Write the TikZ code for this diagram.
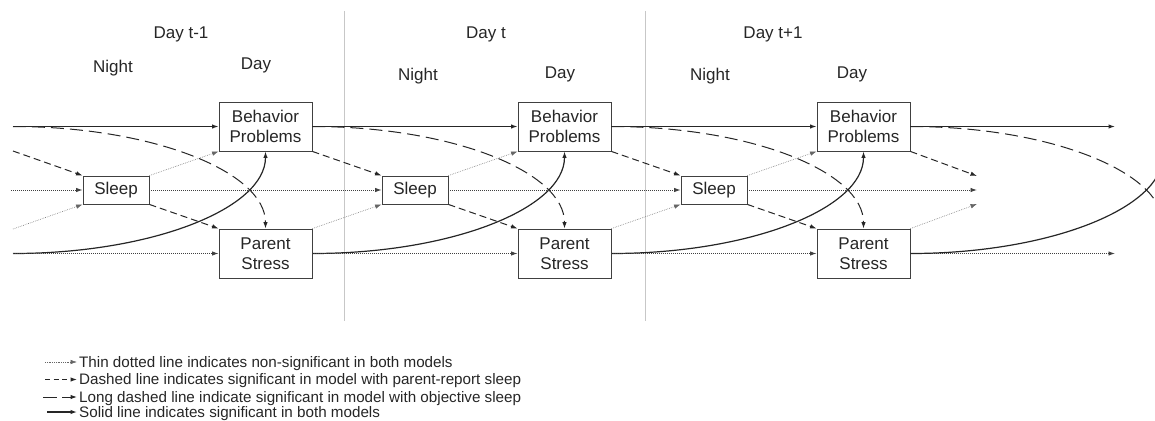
\documentclass[tikz,border=0pt]{standalone}
\usepackage{fontspec}
\setmainfont{Liberation Sans}
\usetikzlibrary{arrows.meta}
\begin{document}
\begin{tikzpicture}[x=1pt,y=-1pt,
  box/.style={draw=black!75, line width=0.9pt, fill=white, minimum width=93pt, minimum height=49pt, inner sep=0pt, align=center, font=\fontsize{17}{19.5}\selectfont, text=black!85},
  sbox/.style={box, minimum width=66pt, minimum height=28pt},
  tip/.style={-{Latex[length=6.5pt,width=4.5pt]}},
  solidln/.style={tip, line width=1.2pt, draw=black!85},
  longdash/.style={tip, line width=1pt, draw=black!85, dash pattern=on 13pt off 6pt},
  meddash/.style={tip, line width=1pt, draw=black!85, dash pattern=on 7pt off 4pt},
  dotln/.style={tip, line width=0.9pt, draw=black!75, dash pattern=on 0.9pt off 1.1pt},
  thindot/.style={tip, line width=0.6pt, draw=black!60, dash pattern=on 0.6pt off 1.2pt},
  lbl/.style={font=\fontsize{17}{19.5}\selectfont, text=black!85, anchor=base, inner sep=0pt},
  leg/.style={font=\fontsize{15.2}{18}\selectfont, text=black!85, anchor=base west, inner sep=0pt},
  sep/.style={draw=black!22, line width=0.8pt}
]
\useasboundingbox (0,0) rectangle (1155,420);

% separators
\coordinate (sepa1) at (344,11);   \coordinate (sepa2) at (344,321);
\coordinate (sepb1) at (645.5,11); \coordinate (sepb2) at (645.5,321);
\draw[sep] (sepa1) -- (sepa2);
\draw[sep] (sepb1) -- (sepb2);

% headers
\node[lbl] (h1) at (181,39) {Day t-1};
\node[lbl] (n1) at (113,72) {Night};
\node[lbl] (d1) at (256,69) {Day};
\node[lbl] (h2) at (486,38) {Day t};
\node[lbl] (n2) at (418,80) {Night};
\node[lbl] (d2) at (560,78) {Day};
\node[lbl] (h3) at (773,39) {Day t+1};
\node[lbl] (n3) at (710,80) {Night};
\node[lbl] (d3) at (852,78) {Day};

% boxes
\foreach \i in {1,2,3}{
  \node[box]  (bp\i) at ({265.5+299*(\i-1)},126.5) {Behavior\\Problems};
  \node[box]  (ps\i) at ({265.5+299*(\i-1)},253.5) {Parent\\Stress};
  \node[sbox] (s\i)  at ({116+299*(\i-1)},190) {Sleep};
}

% virtual ends (left)
\coordinate (bp0e)  at (13,126.5);
\coordinate (bp0se) at (13,151);
\coordinate (ps0e)  at (13,253.5);
\coordinate (ps0ne) at (13,229);
\coordinate (s0e)   at (11,190);
% virtual ends (right)
\coordinate (rt1)  at (1115,126.5);
\coordinate (rt2)  at (1115,253.5);
\coordinate (s4nw) at (977,176);
\coordinate (s4w)  at (977,190);
\coordinate (s4sw) at (977,204);
\coordinate (bp4s) at (1162.5,151);
\coordinate (ps4n) at (1162.5,229);

% column 1 incoming
\draw[solidln] (bp0e) -- (bp1.west);
\draw[longdash] (bp0e) .. controls +(139,0) and +(0,-57) .. (ps1.north);
\draw[solidln] (ps0e) .. controls +(139,0) and +(0,57) .. (bp1.south);
\draw[meddash] (bp0se) -- (s1.north west);
\draw[dotln] (s0e) -- (s1.west);
\draw[thindot] (ps0ne) -- (s1.south west);
\draw[dotln] (ps0e) -- (ps1.west);

% columns 2 and 3 incoming
\foreach \i/\p in {2/1,3/2}{
  \draw[solidln] (bp\p.east) -- (bp\i.west);
  \draw[longdash] (bp\p.east) .. controls +(139,0) and +(0,-57) .. (ps\i.north);
  \draw[solidln] (ps\p.east) .. controls +(139,0) and +(0,57) .. (bp\i.south);
  \draw[meddash] (bp\p.south east) -- (s\i.north west);
  \draw[dotln] (s\p.east) -- (s\i.west);
  \draw[thindot] (ps\p.north east) -- (s\i.south west);
  \draw[dotln] (ps\p.east) -- (ps\i.west);
}

% within-column
\foreach \i in {1,2,3}{
  \draw[meddash] (s\i.south east) -- (ps\i.north west);
  \draw[thindot] (s\i.north east) -- (bp\i.south west);
}

% outgoing from column 3
\draw[solidln] (bp3.east) -- (rt1);
\draw[dotln] (ps3.east) -- (rt2);
\draw[meddash] (bp3.south east) -- (s4nw);
\draw[dotln] (s3.east) -- (s4w);
\draw[thindot] (ps3.north east) -- (s4sw);
\begin{scope}
  \clip (0,0) rectangle (1155,420);
  \draw[longdash] (bp3.east) .. controls +(139,0) and +(0,-57) .. (ps4n);
  \draw[solidln] (ps3.east) .. controls +(139,0) and +(0,57) .. (bp4s);
\end{scope}

% legend
\coordinate (la1) at (45,362); \coordinate (lb1) at (77,362);
\coordinate (la2) at (45,379.5); \coordinate (lb2) at (77,379.5);
\coordinate (la3) at (43,397); \coordinate (lb3) at (77,397);
\coordinate (la4) at (47,412); \coordinate (lb4) at (77,412);
\draw[thindot] (la1) -- (lb1);
\draw[meddash, dash pattern=on 5pt off 3.5pt] (la2) -- (lb2);
\draw[longdash, dash pattern=on 14pt off 5pt] (la3) -- (lb3);
\draw[solidln] (la4) -- (lb4);
\node[leg] (t1) at (79,367) {Thin dotted line indicates non-significant in both models};
\node[leg] (t2) at (79,384.5) {Dashed line indicates significant in model with parent-report sleep};
\node[leg] (t3) at (79,402) {Long dashed line indicate significant in model with objective sleep};
\node[leg] (t4) at (79,417) {Solid line indicates significant in both models};
\end{tikzpicture}
\end{document}
